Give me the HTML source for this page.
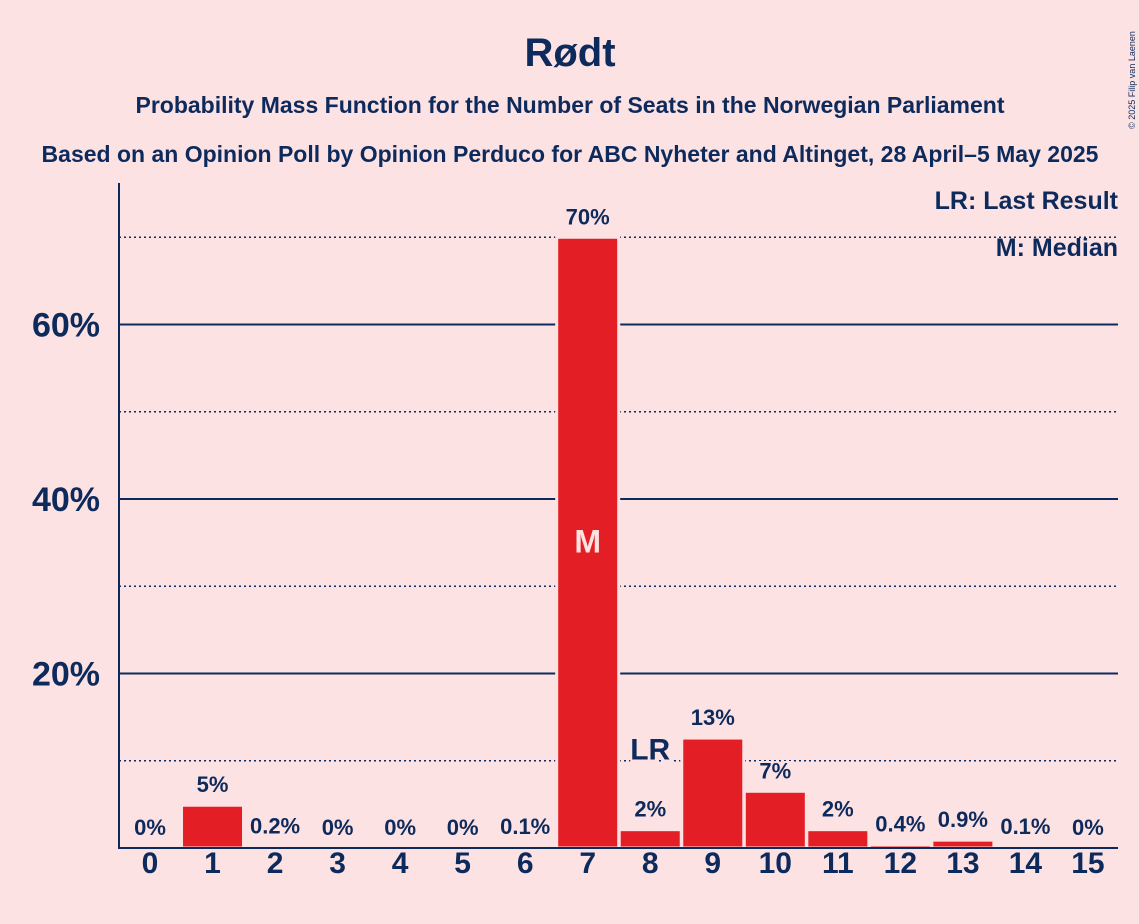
<!DOCTYPE html>
<html><head><meta charset="utf-8"><style>
body{margin:0;background:#fde2e3;}
svg{display:block;font-family:"Liberation Sans",sans-serif;}
</style></head><body>
<svg width="1139" height="924" viewBox="0 0 1139 924">
<rect width="1139" height="924" fill="#fde2e3"/>
<text x="570" y="66" text-anchor="middle" font-size="40" font-weight="bold" fill="#0d2a5c">Rødt</text>
<text x="570" y="113" text-anchor="middle" font-size="23" font-weight="bold" fill="#0d2a5c">Probability Mass Function for the Number of Seats in the Norwegian Parliament</text>
<text x="570" y="162" text-anchor="middle" font-size="23" font-weight="bold" fill="#0d2a5c">Based on an Opinion Poll by Opinion Perduco for ABC Nyheter and Altinget, 28 April–5 May 2025</text>
<text transform="translate(1135,80) rotate(-90)" text-anchor="middle" font-size="9" fill="#0d2a5c">© 2025 Filip van Laenen</text>
<g id="grid"></g>
<g id="bars"></g>
<line x1="119" y1="183" x2="119" y2="849" stroke="#0d2a5c" stroke-width="2"/>
<line x1="119" y1="848" x2="1118" y2="848" stroke="#0d2a5c" stroke-width="2"/>
<text x="1118" y="209" text-anchor="end" font-size="25" font-weight="bold" fill="#0d2a5c">LR: Last Result</text>
<text x="1118" y="256" text-anchor="end" font-size="25" font-weight="bold" fill="#0d2a5c">M: Median</text>
</svg>
<script>
const seats=[0,1,2,3,4,5,6,7,8,9,10,11,12,13,14,15];
const probs=[0,4.9,0.2,0,0,0,0.1,70,2.1,12.6,6.5,2.1,0.4,0.9,0.1,0];
const labels=["0%","5%","0.2%","0%","0%","0%","0.1%","70%","2%","13%","7%","2%","0.4%","0.9%","0.1%","0%"];
const yTicks=[20,40,60];
const yMinor=[10,30,50,70];
const medianSeat=7, lastResultSeat=8;
const NS="http://www.w3.org/2000/svg";
const y=v=>848-v*8.725;
const x=s=>150+s*62.53;
const grid=document.getElementById('grid'), bars=document.getElementById('bars');
function mk(tag,attrs,parent){const e=document.createElementNS(NS,tag);for(const k in attrs)e.setAttribute(k,attrs[k]);parent.appendChild(e);return e;}
yMinor.forEach(v=>{const l=mk('line',{x1:119,x2:1118,y1:y(v),y2:y(v),stroke:'#0d2a5c','stroke-width':1.5,'stroke-dasharray':'2,3'},grid);

});
yTicks.forEach(v=>{const l=mk('line',{x1:119,x2:1118,y1:y(v),y2:y(v),stroke:'#0d2a5c','stroke-width':2},grid);


const t=mk('text',{x:100,y:y(v)+12,'text-anchor':'end','font-size':34,'font-weight':'bold',fill:'#0d2a5c'},grid);t.textContent=v+'%';

});
seats.forEach((s,i)=>{const p=probs[i];
if(p>0){const r=mk('rect',{x:x(s)-31,y:y(p),width:62,height:848-y(p),fill:'#e31e24',stroke:'#fde2e3','stroke-width':3},bars);

}
const t=mk('text',{x:x(s),y:y(p)-13,'text-anchor':'middle','font-size':22,'font-weight':'bold',fill:'#0d2a5c',stroke:'#fde2e3','stroke-width':4,'paint-order':'stroke'},bars);t.textContent=labels[i];


const xt=mk('text',{x:x(s),y:873,'text-anchor':'middle','font-size':30,'font-weight':'bold',fill:'#0d2a5c'},bars);xt.textContent=s;


if(s===medianSeat){const m=mk('text',{x:x(s),y:(y(p)+848)/2+10,'text-anchor':'middle','font-size':32,'font-weight':'bold',fill:'#fde2e3'},bars);m.textContent='M';

}
if(s===lastResultSeat){const m=mk('text',{x:x(s),y:y(p)-70,'text-anchor':'middle','font-size':30,'font-weight':'bold',fill:'#0d2a5c',stroke:'#fde2e3','stroke-width':4,'paint-order':'stroke'},bars);m.textContent='LR';

}
});
</script>
</body></html>
